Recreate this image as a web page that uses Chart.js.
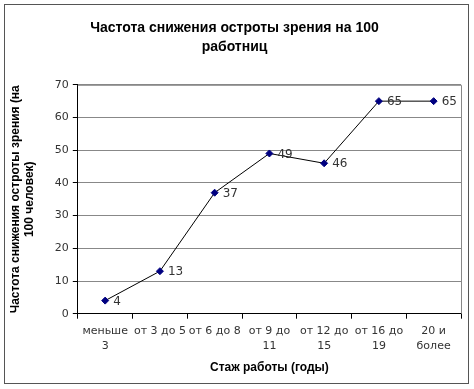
<!DOCTYPE html>
<html>
<head>
<meta charset="utf-8">
<script src="https://cdn.jsdelivr.net/npm/chart.js@4"></script>
<style>
  html, body { margin: 0; padding: 0; background: #fff; }
  #wrap { position: relative; width: 474px; height: 389px; }
  #frame { position: absolute; left: 4px; top: 4px; width: 463px; height: 378px; border: 1px solid #555; box-sizing: content-box; pointer-events: none; }
</style>
</head>
<body>
<div id="wrap">
  <canvas id="myChart" width="474" height="389"></canvas>
  <div id="frame"></div>
</div>
<script>
  'use strict';

  // data
  var categories = [['меньше', '3'], 'от 3 до 5', 'от 6 до 8', ['от 9 до', '11'], ['от 12 до', '15'], ['от 16 до', '19'], ['20 и', 'более']];
  var values = [4, 13, 37, 49, 46, 65, 65];
  var yTicks = [0, 10, 20, 30, 40, 50, 60, 70];

  var tickFont = { family: 'Verdana, DejaVu Sans, sans-serif', size: 11, lineHeight: 1.45 };

  // labels next to each point + grey frame on top/right of plot
  var extras = {
    id: 'extras',
    afterDatasetsDraw: function(chart) {
      var ctx = chart.ctx;
      var a = chart.chartArea;
      ctx.save();
      ctx.strokeStyle = '#888';
      ctx.lineWidth = 1;
      ctx.beginPath();
      ctx.moveTo(a.left, a.top + 0.5);
      ctx.lineTo(a.right + 0.5, a.top + 0.5);
      ctx.lineTo(a.right + 0.5, a.bottom);
      ctx.stroke();

      var meta = chart.getDatasetMeta(0);
      ctx.fillStyle = '#333';
      ctx.font = '12px Verdana, "DejaVu Sans", sans-serif';
      ctx.textBaseline = 'middle';
      ctx.textAlign = 'left';
      meta.data.forEach(function(pt, i) {
        ctx.fillText(String(values[i]), pt.x + 8, pt.y + 1);
      });
      ctx.restore();
    }
  };

  var ctx = document.getElementById('myChart').getContext('2d');
  var myLineChart = new Chart(ctx, {
    type: 'line',
    data: {
      labels: categories,
      datasets: [{
        data: values,
        borderColor: '#000',
        borderWidth: 1,
        pointStyle: 'rectRot',
        pointRadius: 3.5,
        pointBackgroundColor: '#000080',
        pointBorderColor: '#000080',
        pointBorderWidth: 1,
        tension: 0
      }]
    },
    options: {
      responsive: false,
      animation: false,
      layout: { padding: { left: 8, right: 13, top: 8, bottom: 14 } },
      plugins: {
        legend: { display: false },
        tooltip: { enabled: false },
        title: {
          display: true,
          text: ['Частота снижения остроты зрения на 100', 'работниц'],
          color: '#000',
          font: { family: 'Liberation Sans, Arial, sans-serif', size: 14, weight: 'bold', lineHeight: 1.35 },
          padding: { top: 11, bottom: 28 }
        }
      },
      scales: {
        x: {
          offset: true,
          grid: { offset: true, drawOnChartArea: false, drawTicks: true, tickLength: 5, color: '#000' },
          border: { color: '#000', width: 1 },
          ticks: { color: '#333', font: tickFont, maxRotation: 0, autoSkip: false, padding: 4 },
          title: {
            display: true,
            text: 'Стаж работы (годы)',
            color: '#000',
            font: { family: 'Liberation Sans, Arial, sans-serif', size: 12, weight: 'bold' },
            padding: { top: 2, bottom: 0 }
          }
        },
        y: {
          min: 0,
          max: 70,
          afterBuildTicks: function(axis) {
            axis.ticks = yTicks.map(function(v) { return { value: v }; });
          },
          grid: { color: '#888', tickLength: 5, tickColor: '#000' },
          border: { color: '#000', width: 1 },
          ticks: { color: '#333', font: { family: 'Verdana, DejaVu Sans, sans-serif', size: 11 }, padding: 4 },
          title: {
            display: true,
            text: ['Частота снижения остроты зрения (на', '100 человек)'],
            color: '#000',
            font: { family: 'Liberation Sans, Arial, sans-serif', size: 12, weight: 'bold', lineHeight: 1.2 },
            padding: { top: 0, bottom: 14 }
          }
        }
      }
    },
    plugins: [extras]
  });
</script>
</body>
</html>
